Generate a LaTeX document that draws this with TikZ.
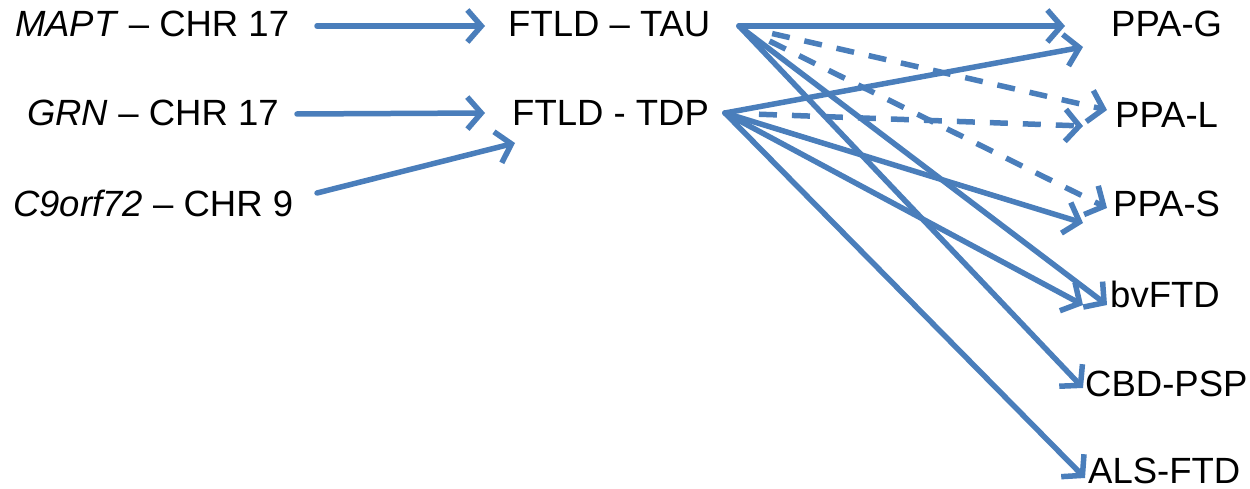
\documentclass[tikz,border=0pt]{standalone}
\usepackage{fontspec}
\setmainfont{Liberation Sans}
\usetikzlibrary{arrows.meta}
\definecolor{arrblue}{HTML}{4A7EBB}
\begin{document}
\begin{tikzpicture}[x=1pt,y=-1pt,
  lbl/.style={inner sep=0pt, anchor=base west, font=\fontsize{36.5}{40}\selectfont},
  arr/.style={draw=arrblue, line width=5.5pt, line cap=round,
    -{Straight Barb[length=14pt,width=32pt,line width=5.5pt]}},
  dsh/.style={arr, line cap=butt, shorten <=34pt, dash pattern=on 18pt off 15pt}]
\useasboundingbox (0,0) rectangle (1250,489);
% labels
\node[lbl] (mapt) at (15,37) {\textit{MAPT} – CHR 17};
\node[lbl] (grn) at (27,126) {\textit{GRN} – CHR 17};
\node[lbl] (c9) at (13,217) {\textit{C9orf72} – CHR 9};
\node[lbl] (tau) at (508,37) {FTLD – TAU};
\node[lbl] (tdp) at (512,126) {FTLD - TDP};
\node[lbl] (ppag) at (1111,37) {PPA-G};
\node[lbl] (ppal) at (1115,128) {PPA-L};
\node[lbl] (ppas) at (1113,217) {PPA-S};
\node[lbl] (bv) at (1110,307) {bvFTD};
\node[lbl] (cbd) at (1085,396) {CBD-PSP};
\node[lbl] (als) at (1088,483) {ALS-FTD};
% connector end points
\coordinate (maptO) at (317,26);
\coordinate (grnO) at (297,114);
\coordinate (c9O) at (317,193);
\coordinate (tauIa) at (485,26);
\coordinate (tdpIa) at (485,113);
\coordinate (tdpIb) at (515,143);
\coordinate (tauO) at (739,26);
\coordinate (tdpO) at (725,113);
\coordinate (ppagA) at (1065,26);
\coordinate (ppagB) at (1083,47);
\coordinate (ppalA) at (1107,110);
\coordinate (ppalB) at (1083,126);
\coordinate (ppasA) at (1107,208);
\coordinate (ppasB) at (1083,223);
\coordinate (bvA) at (1107,305);
\coordinate (bvB) at (1083,305);
\coordinate (cbdA) at (1083,388);
\coordinate (alsB) at (1085,478);
% connectors
\draw[arr] (maptO) -- (tauIa);
\draw[arr] (grnO) -- (tdpIa);
\draw[arr] (c9O) -- (tdpIb);
\draw[arr] (tauO) -- (ppagA);
\draw[dsh] (tauO) -- (ppalA);
\draw[dsh] (tauO) -- (ppasA);
\draw[arr] (tauO) -- (bvA);
\draw[arr] (tauO) -- (cbdA);
\draw[arr] (tdpO) -- (ppagB);
\draw[dsh] (tdpO) -- (ppalB);
\draw[arr] (tdpO) -- (ppasB);
\draw[arr] (tdpO) -- (bvB);
\draw[arr] (tdpO) -- (alsB);
\end{tikzpicture}
\end{document}
